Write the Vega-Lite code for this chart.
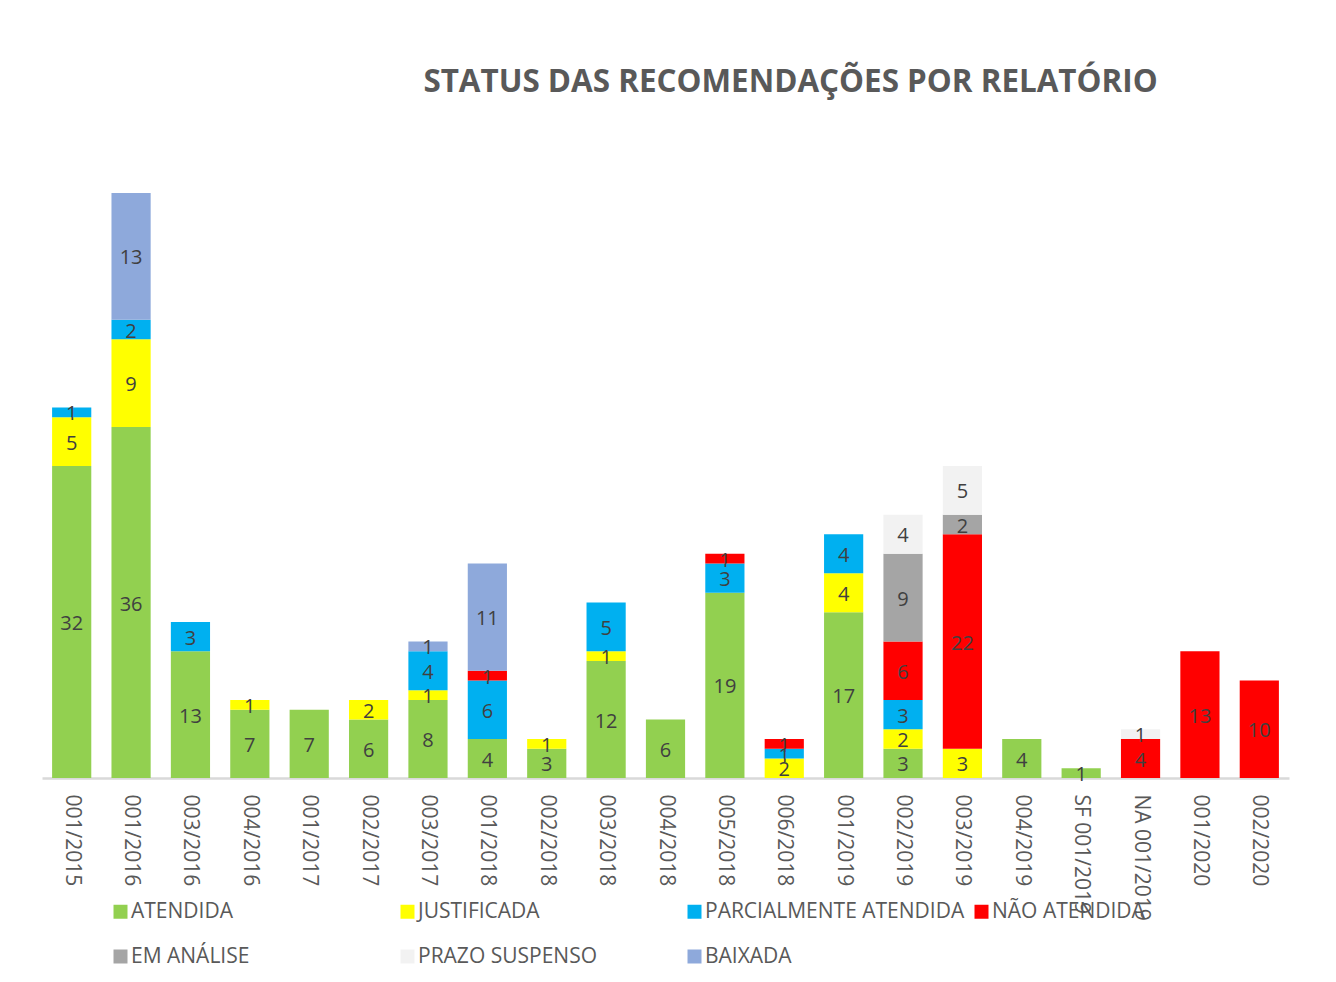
{
  "$schema": "https://vega.github.io/schema/vega-lite/v6.json",
  "width": 1247,
  "height": 585,
  "autosize": {"type": "none"},
  "padding": {"left": 42, "top": 193, "right": 47, "bottom": 204},
  "background": "white",
  "title": {
    "text": "STATUS DAS RECOMENDAÇÕES POR RELATÓRIO",
    "font": "Open Sans",
    "fontSize": 31.4,
    "fontWeight": "bold",
    "color": "#595959",
    "anchor": "middle",
    "baseline": "alphabetic",
    "dx": 125,
    "offset": 70
  },
  "config": {
    "view": {"stroke": null},
    "font": "Open Sans"
  },
  "data": {
    "values": [
      {"rel": "001/2015", "status": "ATENDIDA", "v": 32},
      {"rel": "001/2015", "status": "JUSTIFICADA", "v": 5},
      {"rel": "001/2015", "status": "PARCIALMENTE ATENDIDA", "v": 1},
      {"rel": "001/2016", "status": "ATENDIDA", "v": 36},
      {"rel": "001/2016", "status": "JUSTIFICADA", "v": 9},
      {"rel": "001/2016", "status": "PARCIALMENTE ATENDIDA", "v": 2},
      {"rel": "001/2016", "status": "BAIXADA", "v": 13},
      {"rel": "003/2016", "status": "ATENDIDA", "v": 13},
      {"rel": "003/2016", "status": "PARCIALMENTE ATENDIDA", "v": 3},
      {"rel": "004/2016", "status": "ATENDIDA", "v": 7},
      {"rel": "004/2016", "status": "JUSTIFICADA", "v": 1},
      {"rel": "001/2017", "status": "ATENDIDA", "v": 7},
      {"rel": "002/2017", "status": "ATENDIDA", "v": 6},
      {"rel": "002/2017", "status": "JUSTIFICADA", "v": 2},
      {"rel": "003/2017", "status": "ATENDIDA", "v": 8},
      {"rel": "003/2017", "status": "JUSTIFICADA", "v": 1},
      {"rel": "003/2017", "status": "PARCIALMENTE ATENDIDA", "v": 4},
      {"rel": "003/2017", "status": "BAIXADA", "v": 1},
      {"rel": "001/2018", "status": "ATENDIDA", "v": 4},
      {"rel": "001/2018", "status": "PARCIALMENTE ATENDIDA", "v": 6},
      {"rel": "001/2018", "status": "NÃO ATENDIDA", "v": 1},
      {"rel": "001/2018", "status": "BAIXADA", "v": 11},
      {"rel": "002/2018", "status": "ATENDIDA", "v": 3},
      {"rel": "002/2018", "status": "JUSTIFICADA", "v": 1},
      {"rel": "003/2018", "status": "ATENDIDA", "v": 12},
      {"rel": "003/2018", "status": "JUSTIFICADA", "v": 1},
      {"rel": "003/2018", "status": "PARCIALMENTE ATENDIDA", "v": 5},
      {"rel": "004/2018", "status": "ATENDIDA", "v": 6},
      {"rel": "005/2018", "status": "ATENDIDA", "v": 19},
      {"rel": "005/2018", "status": "PARCIALMENTE ATENDIDA", "v": 3},
      {"rel": "005/2018", "status": "NÃO ATENDIDA", "v": 1},
      {"rel": "006/2018", "status": "JUSTIFICADA", "v": 2},
      {"rel": "006/2018", "status": "PARCIALMENTE ATENDIDA", "v": 1},
      {"rel": "006/2018", "status": "NÃO ATENDIDA", "v": 1},
      {"rel": "001/2019", "status": "ATENDIDA", "v": 17},
      {"rel": "001/2019", "status": "JUSTIFICADA", "v": 4},
      {"rel": "001/2019", "status": "PARCIALMENTE ATENDIDA", "v": 4},
      {"rel": "002/2019", "status": "ATENDIDA", "v": 3},
      {"rel": "002/2019", "status": "JUSTIFICADA", "v": 2},
      {"rel": "002/2019", "status": "PARCIALMENTE ATENDIDA", "v": 3},
      {"rel": "002/2019", "status": "NÃO ATENDIDA", "v": 6},
      {"rel": "002/2019", "status": "EM ANÁLISE", "v": 9},
      {"rel": "002/2019", "status": "PRAZO SUSPENSO", "v": 4},
      {"rel": "003/2019", "status": "JUSTIFICADA", "v": 3},
      {"rel": "003/2019", "status": "NÃO ATENDIDA", "v": 22},
      {"rel": "003/2019", "status": "EM ANÁLISE", "v": 2},
      {"rel": "003/2019", "status": "PRAZO SUSPENSO", "v": 5},
      {"rel": "004/2019", "status": "ATENDIDA", "v": 4},
      {"rel": "SF 001/2019", "status": "ATENDIDA", "v": 1},
      {"rel": "NA 001/2019", "status": "NÃO ATENDIDA", "v": 4},
      {"rel": "NA 001/2019", "status": "PRAZO SUSPENSO", "v": 1},
      {"rel": "001/2020", "status": "NÃO ATENDIDA", "v": 13},
      {"rel": "002/2020", "status": "NÃO ATENDIDA", "v": 10}
    ]
  },
  "transform": [
    {"stack": "v", "groupby": ["rel"], "as": ["v0", "v1"]}
  ],
  "layer": [
    {
      "mark": {"type": "bar"},
      "encoding": {
        "x": {
          "field": "rel",
          "type": "nominal",
          "sort": null,
          "scale": {"paddingInner": 0.34, "paddingOuter": 0.17},
          "axis": {
            "title": null,
            "labelAngle": 90,
            "labelFont": "Open Sans",
            "labelFontSize": 21,
            "labelColor": "#595959",
            "labelPadding": 16,
            "ticks": false,
            "tickSize": 0,
            "labelOverlap": false,
            "domainColor": "#D9D9D9",
            "domainWidth": 2.5
          }
        },
        "y": {
          "field": "v0",
          "type": "quantitative",
          "scale": {"domain": [0, 60], "nice": false},
          "axis": null
        },
        "y2": {"field": "v1"},
        "color": {
          "field": "status",
          "type": "nominal",
          "scale": {
            "domain": ["ATENDIDA", "JUSTIFICADA", "PARCIALMENTE ATENDIDA", "NÃO ATENDIDA", "EM ANÁLISE", "PRAZO SUSPENSO", "BAIXADA"],
            "range": ["#92D050", "#FFFF00", "#00B0F0", "#FF0000", "#A5A5A5", "#F2F2F2", "#8EA9DB"]
          },
          "legend": {
            "title": null,
            "orient": "none",
            "legendX": 68,
            "legendY": 708,
            "columns": 4,
            "direction": "horizontal",
            "gridAlign": "all",
            "columnPadding": 6,
            "rowPadding": 23,
            "symbolType": "square",
            "symbolSize": 196,
            "symbolStrokeWidth": 0,
            "symbolOpacity": 1,
            "labelOffset": 0,
            "labelFont": "Open Sans",
            "labelFontSize": 21,
            "labelColor": "#595959",
            "labelLimit": 400
          }
        }
      }
    },
    {
      "transform": [
        {"fold": ["v0", "v1"], "as": ["k", "pos"]}
      ],
      "mark": {
        "type": "text",
        "font": "Open Sans",
        "fontSize": 20,
        "color": "#404040",
        "baseline": "middle",
        "align": "center",
        "dy": 2
      },
      "encoding": {
        "x": {"field": "rel", "type": "nominal", "sort": null},
        "y": {"aggregate": "mean", "field": "pos", "type": "quantitative"},
        "detail": {"field": "status", "type": "nominal"},
        "text": {"aggregate": "max", "field": "v", "type": "quantitative"}
      }
    }
  ]
}
